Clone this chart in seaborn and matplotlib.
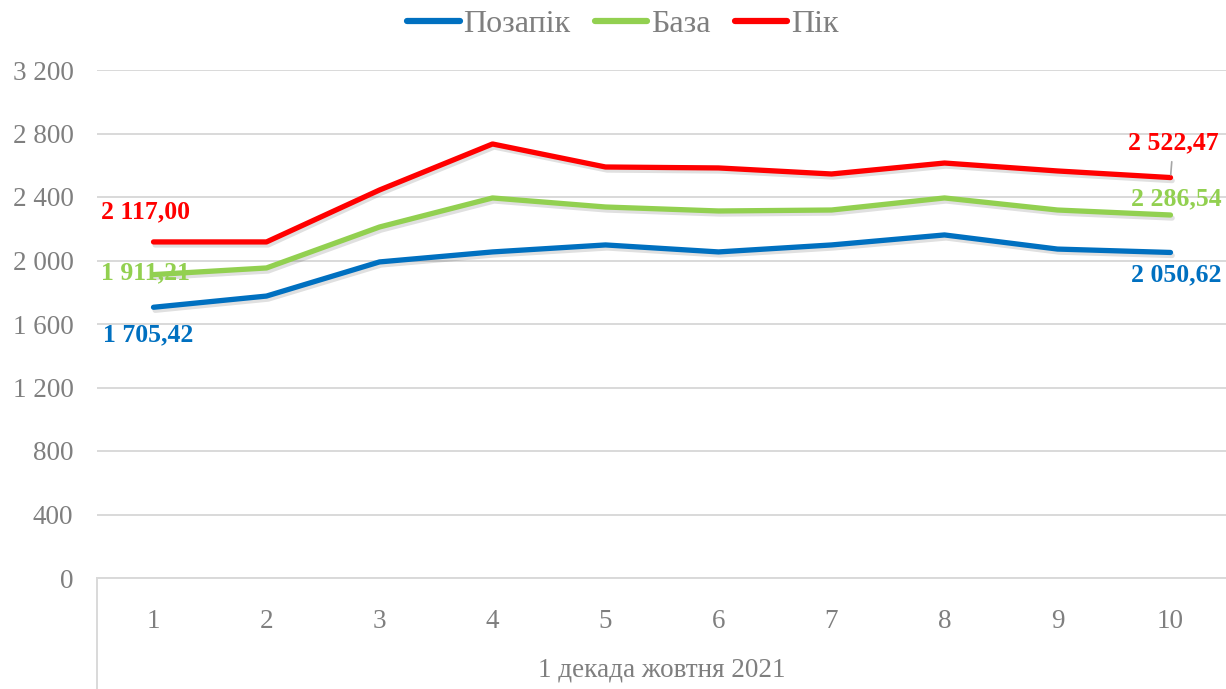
import pandas as pd
import seaborn as sns
import matplotlib.pyplot as plt
import matplotlib.patheffects as pe

# Data (1 декада жовтня 2021)
days = [1, 2, 3, 4, 5, 6, 7, 8, 9, 10]
offpeak = [1705.42, 1776, 1991, 2054, 2098, 2054, 2098, 2161, 2072, 2050.62]
base = [1911.21, 1953, 2211, 2394, 2337, 2312, 2318, 2394, 2318, 2286.54]
peak = [2117.00, 2117, 2444, 2734, 2589, 2583, 2545, 2614, 2564, 2522.47]
series_names = ["Позапік", "База", "Пік"]
colors = {"Позапік": "#0070C0", "База": "#92D050", "Пік": "#FF0000"}
GRAY = "#7F7F7F"

rows = []
for name, vals in zip(series_names, [offpeak, base, peak]):
    for i, v in enumerate(vals):
        rows.append({"idx": i, "day": days[i], "value": v, "series": name})
df = pd.DataFrame(rows)


def fmt(v):
    return f"{v:,.2f}".replace(",", " ").replace(".", ",")


sns.set_style("white")
plt.rcParams["font.family"] = ["Liberation Serif", "DejaVu Serif"]

fig = plt.figure(figsize=(12.26, 6.89), dpi=100)
ax = fig.add_axes([97 / 1226, 111 / 689, 1130 / 1226, 508 / 689])

shadow = [pe.SimpleLineShadow(offset=(1.2, -2.2), alpha=0.12, shadow_color="black"), pe.Normal()]
sns.lineplot(data=df, x="idx", y="value", hue="series", palette=colors,
             hue_order=series_names, linewidth=3.8, ax=ax, legend=False,
             path_effects=shadow, solid_capstyle="round")

ax.set_xlim(-0.5, 9.5)
ax.set_ylim(0, 3200)
ax.set_yticks(range(0, 3201, 400))
ax.set_yticklabels([f"{v:,}".replace(",", " ") for v in range(0, 3201, 400)])
ax.set_xticks(range(len(days)))
ax.set_xticklabels([str(d) for d in days])
ax.tick_params(axis="both", length=0, labelsize=19.5, labelcolor=GRAY)
ax.tick_params(axis="x", pad=22)
ax.tick_params(axis="y", pad=17)
ax.yaxis.grid(True, color="#D9D9D9", linewidth=1.4)
ax.set_axisbelow(True)
for s in ["top", "right", "left"]:
    ax.spines[s].set_visible(False)
ax.spines["bottom"].set_color("#D9D9D9")
ax.spines["bottom"].set_linewidth(1.4)
ax.set_xlabel("1 декада жовтня 2021", fontsize=19.5, color=GRAY, labelpad=17)
ax.set_ylabel("")

# left boundary of the category axis box
ax.plot([0, 0], [0, -0.25], transform=ax.transAxes, color="#D9D9D9",
        linewidth=1.4, clip_on=False)

# data labels
lab = dict(fontsize=18.5, fontweight="bold", ha="center", va="center",
           textcoords="offset points")
ax.annotate(fmt(peak[0]), (0, peak[0]), xytext=(-6, 22), color=colors["Пік"], **lab)
ax.annotate(fmt(base[0]), (0, base[0]), xytext=(-6, 1), color=colors["База"], **lab)
ax.annotate(fmt(offpeak[0]), (0, offpeak[0]), xytext=(-4, -20),
            color=colors["Позапік"], **lab)
ax.annotate(fmt(peak[-1]), (9, peak[-1]), xytext=(2, 25), color=colors["Пік"],
            arrowprops=dict(arrowstyle="-", color="#A6A6A6", lw=1.2, shrinkA=3, shrinkB=2),
            **lab)
ax.annotate(fmt(base[-1]), (9, base[-1]), xytext=(4, 12), color=colors["База"], **lab)
ax.annotate(fmt(offpeak[-1]), (9, offpeak[-1]), xytext=(4, -16),
            color=colors["Позапік"], **lab)

handles = [plt.Line2D([], [], color=colors[n], linewidth=4.5, solid_capstyle="round")
           for n in series_names]
fig.legend(handles, series_names, loc="center", bbox_to_anchor=(0.508, 0.965), ncol=3,
           frameon=False, fontsize=23, handlelength=1.65, handletextpad=0.12,
           columnspacing=0.75, labelcolor=GRAY)

fig.savefig("out.png", dpi=100)
